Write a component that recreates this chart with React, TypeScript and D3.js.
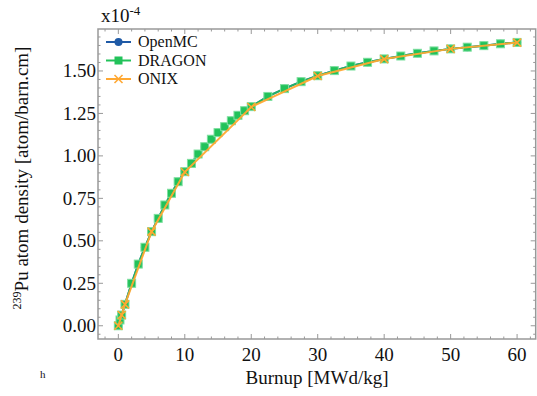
import React from "react";
import * as d3 from "d3";

const burnup = [0, 0.25, 0.5, 1, 2, 3, 4, 5, 6, 7, 8, 9, 10, 11, 12, 13, 14, 15, 16, 17, 18, 19, 20, 22.5, 25, 27.5, 30, 32.5, 35, 37.5, 40, 42.5, 45, 47.5, 50, 52.5, 55, 57.5, 60];
const openmc = [0, 0.034, 0.063, 0.126, 0.25, 0.363, 0.462, 0.554, 0.632, 0.711, 0.78, 0.848, 0.907, 0.956, 1.011, 1.054, 1.098, 1.137, 1.172, 1.207, 1.239, 1.266, 1.29, 1.35, 1.396, 1.437, 1.472, 1.502, 1.529, 1.551, 1.571, 1.588, 1.604, 1.618, 1.63, 1.64, 1.649, 1.66, 1.668];
const dragon = [0, 0.034, 0.063, 0.126, 0.25, 0.363, 0.462, 0.554, 0.632, 0.711, 0.78, 0.848, 0.907, 0.956, 1.011, 1.054, 1.098, 1.137, 1.172, 1.207, 1.239, 1.266, 1.29, 1.35, 1.396, 1.437, 1.472, 1.502, 1.529, 1.551, 1.571, 1.588, 1.604, 1.618, 1.63, 1.64, 1.649, 1.66, 1.668];
const onixBurnup = [0, 0.5, 1, 5, 10, 20, 30, 40, 50, 60];
const onix = [0, 0.063, 0.126, 0.554, 0.905, 1.288, 1.47, 1.57, 1.63, 1.667];
const xTicks = [0, 10, 20, 30, 40, 50, 60];
const yTicks = [0, 0.25, 0.5, 0.75, 1.0, 1.25, 1.5];
const seriesNames = ["OpenMC", "DRAGON", "ONIX"];

const W = 537, H = 396;
const L = 98, R = 535.7, T = 29, B = 339;
const BLUE = "#1f5aa6", GREEN = "#22c25a", ORANGE = "#ffa832";
const FONT = "'Liberation Serif', 'Times New Roman', serif";

export default function App() {
  const x = d3.scaleLinear().domain([-3.06, 62.8]).range([L, R]);
  const y = d3.scaleLinear().domain([-0.078, 1.747]).range([B, T]);
  const line = d3.line<[number, number]>().x(d => x(d[0])).y(d => y(d[1]));
  const omc = burnup.map((b, i) => [b, openmc[i]] as [number, number]);
  const drg = burnup.map((b, i) => [b, dragon[i]] as [number, number]);
  const onx = onixBurnup.map((b, i) => [b, onix[i]] as [number, number]);

  const xMinor = d3.range(-2, 63, 2).filter(v => v % 10 !== 0);
  const yMinor = d3.range(-0.05, 1.75, 0.05).filter(v => Math.abs((v / 0.25) - Math.round(v / 0.25)) > 1e-6);
  const tickC = "#999";
  const sq = 8, cr = 4;
  const ts: React.CSSProperties = { fontFamily: FONT };
  const FS = 19;

  return (
    <svg width={W} height={H} style={{ display: "block", position: "absolute", left: 0, top: 0, fontFamily: FONT }}>
      <rect x={0} y={0} width={W} height={H} fill="#fff" />
      <rect x={L} y={T} width={R - L} height={B - T} fill="none" stroke={tickC} strokeWidth={1.5} />
      {xTicks.map(v => (
        <g key={"xt" + v}>
          <line x1={x(v)} x2={x(v)} y1={B} y2={B - 5} stroke={tickC} />
          <line x1={x(v)} x2={x(v)} y1={T} y2={T + 5} stroke={tickC} />
          <text x={x(v)} y={361} fontSize={FS} textAnchor="middle" fill="#111" style={ts}>{v}</text>
        </g>
      ))}
      {xMinor.map(v => (
        <g key={"xm" + v}>
          <line x1={x(v)} x2={x(v)} y1={B} y2={B - 2.5} stroke={tickC} />
          <line x1={x(v)} x2={x(v)} y1={T} y2={T + 2.5} stroke={tickC} />
        </g>
      ))}
      {yTicks.map(v => (
        <g key={"yt" + v}>
          <line x1={L} x2={L + 5} y1={y(v)} y2={y(v)} stroke={tickC} />
          <line x1={R} x2={R - 5} y1={y(v)} y2={y(v)} stroke={tickC} />
          <text x={96} y={y(v) + 6.3} fontSize={FS} textAnchor="end" fill="#111" style={ts}>{v.toFixed(2)}</text>
        </g>
      ))}
      {yMinor.map(v => (
        <g key={"ym" + v.toFixed(3)}>
          <line x1={L} x2={L + 2.5} y1={y(v)} y2={y(v)} stroke={tickC} />
          <line x1={R} x2={R - 2.5} y1={y(v)} y2={y(v)} stroke={tickC} />
        </g>
      ))}
      <text x={101} y={22} fontSize={FS} fill="#111" style={ts}>x10<tspan dy={-7} fontSize={13}>-4</tspan></text>
      <text x={317} y={384} fontSize={FS} textAnchor="middle" fill="#111" style={ts}>Burnup [MWd/kg]</text>
      <text transform={`translate(28,178) rotate(-90)`} fontSize={FS} textAnchor="middle" fill="#111" style={ts}>
        <tspan dy={-7} fontSize={12}>239</tspan><tspan dy={7}>Pu atom density [atom/barn.cm]</tspan>
      </text>
      <text x={40} y={378} fontSize={11} fill="#111" style={ts}>h</text>

      <path d={line(omc) || ""} fill="none" stroke={BLUE} strokeWidth={2} />
      {omc.map((d, i) => <circle key={"o" + i} cx={x(d[0])} cy={y(d[1])} r={4} fill={BLUE} />)}
      <path d={line(drg) || ""} fill="none" stroke={GREEN} strokeWidth={2} opacity={0.85} />
      {drg.map((d, i) => (
        <rect key={"d" + i} x={x(d[0]) - sq / 2} y={y(d[1]) - sq / 2} width={sq} height={sq} fill={GREEN} stroke="#7fe0a0" strokeWidth={1} />
      ))}
      <path d={line(onx) || ""} fill="none" stroke={ORANGE} strokeWidth={2} opacity={0.95} />
      {onx.map((d, i) => (
        <g key={"n" + i} stroke={ORANGE} strokeWidth={1.6}>
          <line x1={x(d[0]) - cr} x2={x(d[0]) + cr} y1={y(d[1]) - cr} y2={y(d[1]) + cr} />
          <line x1={x(d[0]) - cr} x2={x(d[0]) + cr} y1={y(d[1]) + cr} y2={y(d[1]) - cr} />
        </g>
      ))}

      {seriesNames.map((n, i) => {
        const ly = 42 + i * 18.5;
        const c = [BLUE, GREEN, ORANGE][i];
        return (
          <g key={"lg" + n}>
            <line x1={106} x2={131} y1={ly} y2={ly} stroke={c} strokeWidth={2} />
            {i === 0 && <circle cx={118.5} cy={ly} r={4} fill={c} />}
            {i === 1 && <rect x={114.5} y={ly - 4} width={8} height={8} fill={c} />}
            {i === 2 && (
              <g stroke={c} strokeWidth={1.6}>
                <line x1={114.5} x2={122.5} y1={ly - 4} y2={ly + 4} />
                <line x1={114.5} x2={122.5} y1={ly + 4} y2={ly - 4} />
              </g>
            )}
            <text x={138} y={ly + 5} fontSize={16} fill="#111" style={ts}>{n}</text>
          </g>
        );
      })}
    </svg>
  );
}
